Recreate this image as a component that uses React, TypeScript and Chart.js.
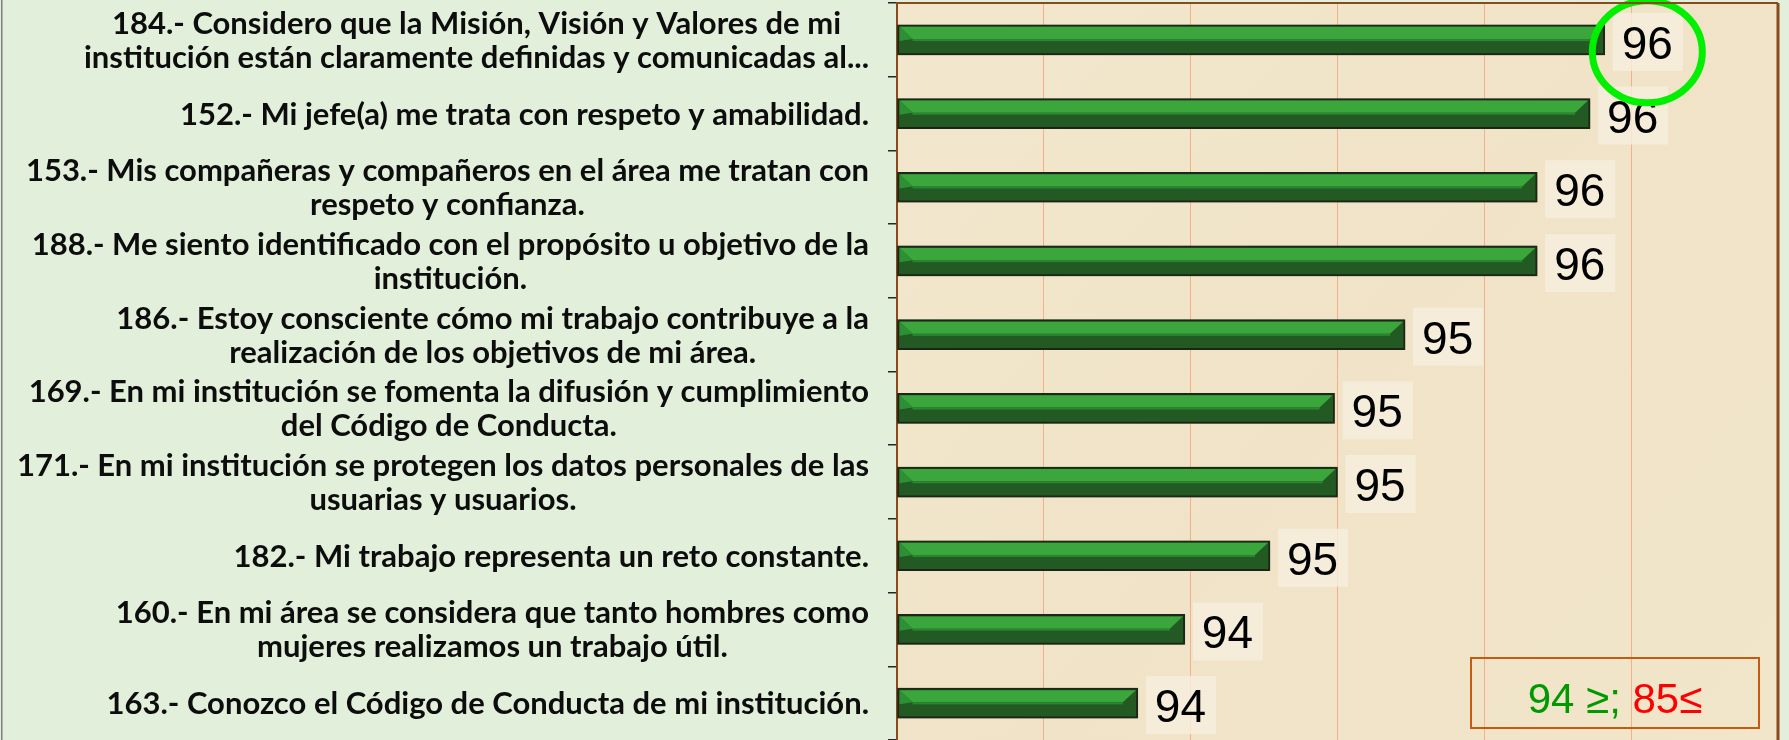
import React, { useEffect, useRef } from 'react';
import { Chart, registerables } from 'chart.js';

Chart.register(...registerables);

// ---------- data ----------
const questionLabels: string[][] = [
  ['184.- Considero que la Misión, Visión y Valores de mi', 'institución están claramente definidas y comunicadas al...'],
  ['152.- Mi jefe(a) me trata con respeto y amabilidad.'],
  ['153.- Mis compañeras y compañeros en el área me tratan con', 'respeto y confianza.'],
  ['188.- Me siento identificado con el propósito u objetivo de la', 'institución.'],
  ['186.- Estoy consciente cómo mi trabajo contribuye a la', 'realización de los objetivos de mi área.'],
  ['169.- En mi institución se fomenta la difusión y cumplimiento', 'del Código de Conducta.'],
  ['171.- En mi institución se protegen los datos personales de las', 'usuarias y usuarios.'],
  ['182.- Mi trabajo representa un reto constante.'],
  ['160.- En mi área se considera que tanto hombres como', 'mujeres realizamos un trabajo útil.'],
  ['163.- Conozco el Código de Conducta de mi institución.'],
];

const scores: number[] = [95.91, 95.86, 95.68, 95.68, 95.23, 94.99, 95.0, 94.77, 94.48, 94.32];

const axisMin = 93.5;
const axisMax = 96.5;
const axisStep = 0.5;

const legendGood = '94 ≥;';
const legendBad = '85≤';
const highlightedIndex = 0;

// ---------- styles ----------
const LABEL_FONT = '700 31px Lato, "Open Sans", sans-serif';
const VALUE_FONT = '46px "Liberation Sans", Arial, sans-serif';
const LEGEND_FONT = '42px "Liberation Sans", Arial, sans-serif';

const decorPlugin = {
  id: 'decor',
  beforeDraw(chart: any) {
    const { ctx, chartArea: a, width, height } = chart;
    ctx.save();
    ctx.fillStyle = '#E2EFDA';
    ctx.fillRect(0, 0, width, height);
    ctx.fillStyle = '#7F7F7F';
    ctx.fillRect(1, 0, 1.5, height);
    const g = ctx.createLinearGradient(a.left, a.top, a.right, a.bottom);
    g.addColorStop(0, '#F2E7CD');
    g.addColorStop(0.5, '#F0E3C7');
    g.addColorStop(1, '#F1E5CA');
    ctx.fillStyle = g;
    ctx.fillRect(a.left, a.top, a.right - a.left, a.bottom - a.top);
    ctx.restore();
  },
  beforeDatasetsDraw(chart: any) {
    const ctx = chart.ctx;
    ctx.save();
    ctx.shadowColor = 'rgba(30,25,10,0.45)';
    ctx.shadowBlur = 4;
    ctx.shadowOffsetY = 1;
  },
  afterDatasetsDraw(chart: any) {
    const ctx = chart.ctx;
    ctx.restore();
    const a = chart.chartArea;
    const meta = chart.getDatasetMeta(0);
    ctx.save();
    // bevel overlay on each bar
    meta.data.forEach((el: any) => {
      const { x, y, base, height } = el.getProps(['x', 'y', 'base', 'height'], true);
      const left = Math.max(Math.min(x, base), a.left) + 2;
      const right = Math.max(x, base) - 2;
      const top = y - height / 2 + 2;
      const bottom = y + height / 2 - 2;
      const mid = top + (bottom - top) * 0.47;
      const bev = 13;
      ctx.fillStyle = '#3AA63B';
      ctx.beginPath();
      ctx.moveTo(left, top);
      ctx.lineTo(right, top);
      ctx.lineTo(right - bev, mid);
      ctx.lineTo(left + bev, mid);
      ctx.closePath();
      ctx.fill();
      ctx.fillStyle = '#2E9034';
      ctx.beginPath();
      ctx.moveTo(left, top);
      ctx.lineTo(left + bev, mid);
      ctx.lineTo(left, mid + 2);
      ctx.closePath();
      ctx.fill();
      ctx.fillStyle = '#2C8530';
      ctx.fillRect(left + bev, mid, right - left - 2 * bev, 2);
    });
    // value labels
    ctx.font = VALUE_FONT;
    ctx.textAlign = 'left';
    ctx.textBaseline = 'alphabetic';
    let ring: { cx: number; cy: number } | null = null;
    meta.data.forEach((el: any, i: number) => {
      const { x, y } = el.getProps(['x', 'y'], true);
      const txt = String(Math.round(scores[i]));
      const tw = ctx.measureText(txt).width;
      const tx = x + 17;
      ctx.fillStyle = 'rgba(246,239,222,0.8)';
      ctx.fillRect(tx - 9, y - 27, tw + 19, 58);
      ctx.fillStyle = '#000000';
      ctx.fillText(txt, tx, y + 19);
      if (i === highlightedIndex) ring = { cx: tx + tw / 2, cy: y + 12 };
    });
    if (ring) {
      const r = ring as { cx: number; cy: number };
      ctx.strokeStyle = '#00F000';
      ctx.lineWidth = 7;
      ctx.beginPath();
      ctx.ellipse(r.cx, r.cy, 55, 51, 0, 0, Math.PI * 2);
      ctx.stroke();
    }
    ctx.restore();
  },
  afterDraw(chart: any) {
    const { ctx, chartArea: a } = chart;
    const yScale = chart.scales.y;
    ctx.save();
    // plot border
    ctx.strokeStyle = '#8A4A1C';
    ctx.lineWidth = 2;
    ctx.beginPath();
    ctx.moveTo(a.left, a.top);
    ctx.lineTo(a.right, a.top);
    ctx.stroke();
    ctx.lineWidth = 3;
    ctx.beginPath();
    ctx.moveTo(a.right, a.top);
    ctx.lineTo(a.right, a.bottom);
    ctx.stroke();

    // category labels: each block right-aligned, its lines centred
    ctx.font = LABEL_FONT;
    ctx.fillStyle = '#0D0D0D';
    ctx.textAlign = 'center';
    ctx.textBaseline = 'middle';
    const rightEdge = yScale.right - 28;
    const lh = 34;
    questionLabels.forEach((lines, i) => {
      const yc = yScale.getPixelForValue(i);
      const w = Math.max(...lines.map((l) => ctx.measureText(l).width));
      const cx = rightEdge - w / 2;
      lines.forEach((l, j) => {
        ctx.fillText(l, cx, yc + (j - (lines.length - 1) / 2) * lh + 1);
      });
    });

    // legend box
    const bw = 288;
    const bh = 70;
    const bx = a.right - 307;
    const by = a.bottom - 82;
    ctx.strokeStyle = '#C55A11';
    ctx.lineWidth = 2;
    ctx.strokeRect(bx, by, bw, bh);
    ctx.font = LEGEND_FONT;
    ctx.textAlign = 'left';
    ctx.textBaseline = 'alphabetic';
    const gTxt = legendGood + ' ';
    const w1 = ctx.measureText(gTxt).width;
    const w2 = ctx.measureText(legendBad).width;
    const sx = bx + bw / 2 - (w1 + w2) / 2;
    ctx.fillStyle = '#009A00';
    ctx.fillText(gTxt, sx, by + 55);
    ctx.fillStyle = '#FF0000';
    ctx.fillText(legendBad, sx + w1, by + 55);
    ctx.restore();
  },
};

export default function App() {
  const canvasRef = useRef<HTMLCanvasElement | null>(null);

  useEffect(() => {
    document.body.style.margin = '0';
    document.body.style.overflow = 'hidden';
    const canvas = canvasRef.current;
    if (!canvas) return;
    const chart = new Chart(canvas, {
      type: 'bar',
      data: {
        labels: questionLabels,
        datasets: [
          {
            data: scores,
            base: axisMin,
            backgroundColor: '#235A24',
            borderColor: '#1B2A1B',
            borderWidth: 2,
            borderSkipped: false,
            barThickness: 30,
          },
        ],
      },
      plugins: [decorPlugin],
      options: {
        indexAxis: 'y',
        responsive: false,
        maintainAspectRatio: false,
        animation: false,
        devicePixelRatio: 1,
        layout: { padding: { top: 3, right: 11, bottom: 0, left: 0 } },
        plugins: {
          legend: { display: false },
          tooltip: { enabled: false },
          title: { display: false },
        },
        scales: {
          x: {
            type: 'linear',
            min: axisMin,
            max: axisMax,
            ticks: { display: false, stepSize: axisStep },
            grid: { color: '#F4B08A', lineWidth: 1, drawTicks: false },
            border: { display: false },
            afterFit: (s: any) => {
              s.height = 0;
            },
          },
          y: {
            type: 'category',
            ticks: { display: false },
            grid: {
              offset: true,
              drawOnChartArea: false,
              drawTicks: true,
              tickLength: 9,
              color: '#262626',
              lineWidth: 1.5,
            },
            border: { display: true, color: '#8A4A1C', width: 2 },
            afterFit: (s: any) => {
              s.width = 897;
            },
          },
        },
      } as any,
    });
    return () => chart.destroy();
  }, []);

  return <canvas ref={canvasRef} width={1789} height={740} style={{ display: 'block' }} />;
}
